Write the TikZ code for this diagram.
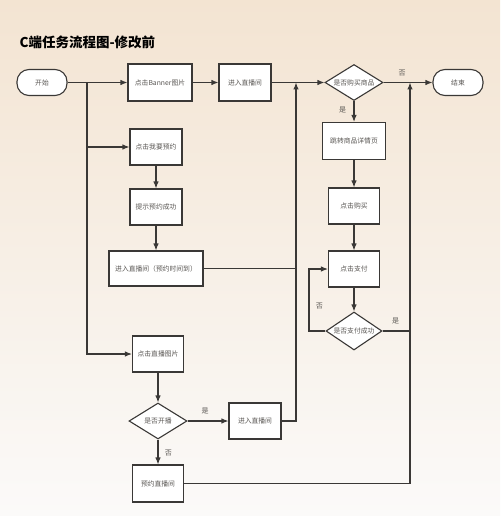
\documentclass[tikz,border=0pt]{standalone}
\usepackage{fontspec}
\setmainfont{Noto Sans CJK SC}
\usetikzlibrary{shapes.geometric,arrows.meta}
\definecolor{edgegray}{HTML}{3A3836}
\definecolor{textgray}{HTML}{595653}
\definecolor{bgtop}{HTML}{F3E4D2}
\definecolor{bgbot}{HTML}{FBFAF9}

\begin{document}
\begin{tikzpicture}
  [x=1pt,y=-1pt,
   every node/.style={font=\fontsize{6.8}{7.5}\selectfont,text=textgray},
   proc/.style={rectangle,draw=edgegray,fill=white,line width=1.1pt,minimum height=36pt,inner sep=1pt},
   term/.style={rectangle,rounded corners=12pt,draw=edgegray,fill=white,line width=1.1pt,minimum width=50pt,minimum height=26pt},
   dec/.style={diamond,aspect=1.6,draw=edgegray,fill=white,line width=1.1pt,minimum width=58pt,minimum height=36pt,inner sep=0pt},
   flow/.style={draw=edgegray,line width=1.1pt,-{Latex[length=7pt,width=5.5pt]}},
   link/.style={draw=edgegray,line width=1.1pt},
   lbl/.style={font=\fontsize{7}{8}\selectfont}]

  \fill[top color=bgtop,bottom color=bgbot] (0,0) rectangle (500,516);
  \useasboundingbox (0,0) rectangle (500,516);

  \node[anchor=west,text=black,font=\fontsize{13.5}{15}\selectfont\bfseries] (title) at (16,42) {C端任务流程图-修改前};

  % main row
  \node[term] (start) at (42,82.5) {开始};
  \node[proc,minimum width=64pt,minimum height=37pt] (banner) at (160,82.5) {点击Banner图片};
  \node[proc,minimum width=52pt,minimum height=37pt] (live1) at (245,82.5) {进入直播间};
  \node[dec] (buy) at (354,82.5) {是否购买商品};
  \node[term] (done) at (458,82.5) {结束};

  % purchase column
  \node[proc,minimum width=63pt,minimum height=37pt] (detail) at (354,141) {跳转商品详情页};
  \node[proc,minimum width=51pt] (clickbuy) at (354,206) {点击购买};
  \node[proc,minimum width=51pt] (pay) at (354,269) {点击支付};
  \node[dec,minimum width=56pt,minimum height=38pt] (paid) at (354,331) {是否支付成功};

  % booking column
  \node[proc,minimum width=52pt] (book) at (156,147) {点击我要预约};
  \node[proc,minimum width=52pt] (booked) at (156,207) {提示预约成功};
  \node[proc,minimum width=94pt,minimum height=35pt] (live2) at (156,268.5) {进入直播间（预约时间到）};
  \node[proc,minimum width=51pt] (pic) at (158,354) {点击直播图片};
  \node[dec] (onair) at (158,421) {是否开播};
  \node[proc,minimum width=52pt] (live3) at (255,421) {进入直播间};
  \node[proc,minimum width=51pt,minimum height=37pt] (remind) at (158,483.5) {预约直播间};

  \coordinate (jl) at (87,82.5);
  \coordinate (jm) at (296,82.5);
  \coordinate (jr) at (410,82.5);
  \coordinate (back) at (309,331);

  \foreach \from/\to in {start/banner,banner/live1,live1/buy,detail/clickbuy,clickbuy/pay,pay/paid,book/booked,booked/live2,pic/onair}
    \draw[flow] (\from) -- (\to);

  \draw[flow] (buy) -- node[lbl,pos=0.38,above=3pt] {否} (done);
  \draw[flow] (buy) -- node[lbl,pos=0.45,left=4pt] {是} (detail);
  \draw[flow] (jl) |- (book.west);
  \draw[flow] (jl) |- (pic.west);
  \draw[flow] (onair) -- node[lbl,pos=0.43,above=3pt] {是} (live3);
  \draw[flow] (onair) -- node[lbl,pos=0.54,right=3pt] {否} (remind);
  \draw[flow] (live3.east) -| (jm);
  \draw[link] (live2.east) -- (live2.east -| jm);
  \draw[flow] (paid.west) -- (back) |- node[lbl,pos=0.2,right=3pt] {否} (pay.west);
  \draw[flow] (remind.east) -| (jr);
  \draw[link] (paid.east) -- node[lbl,pos=0.48,above=3pt] {是} (paid.east -| jr);

\end{tikzpicture}
\end{document}
